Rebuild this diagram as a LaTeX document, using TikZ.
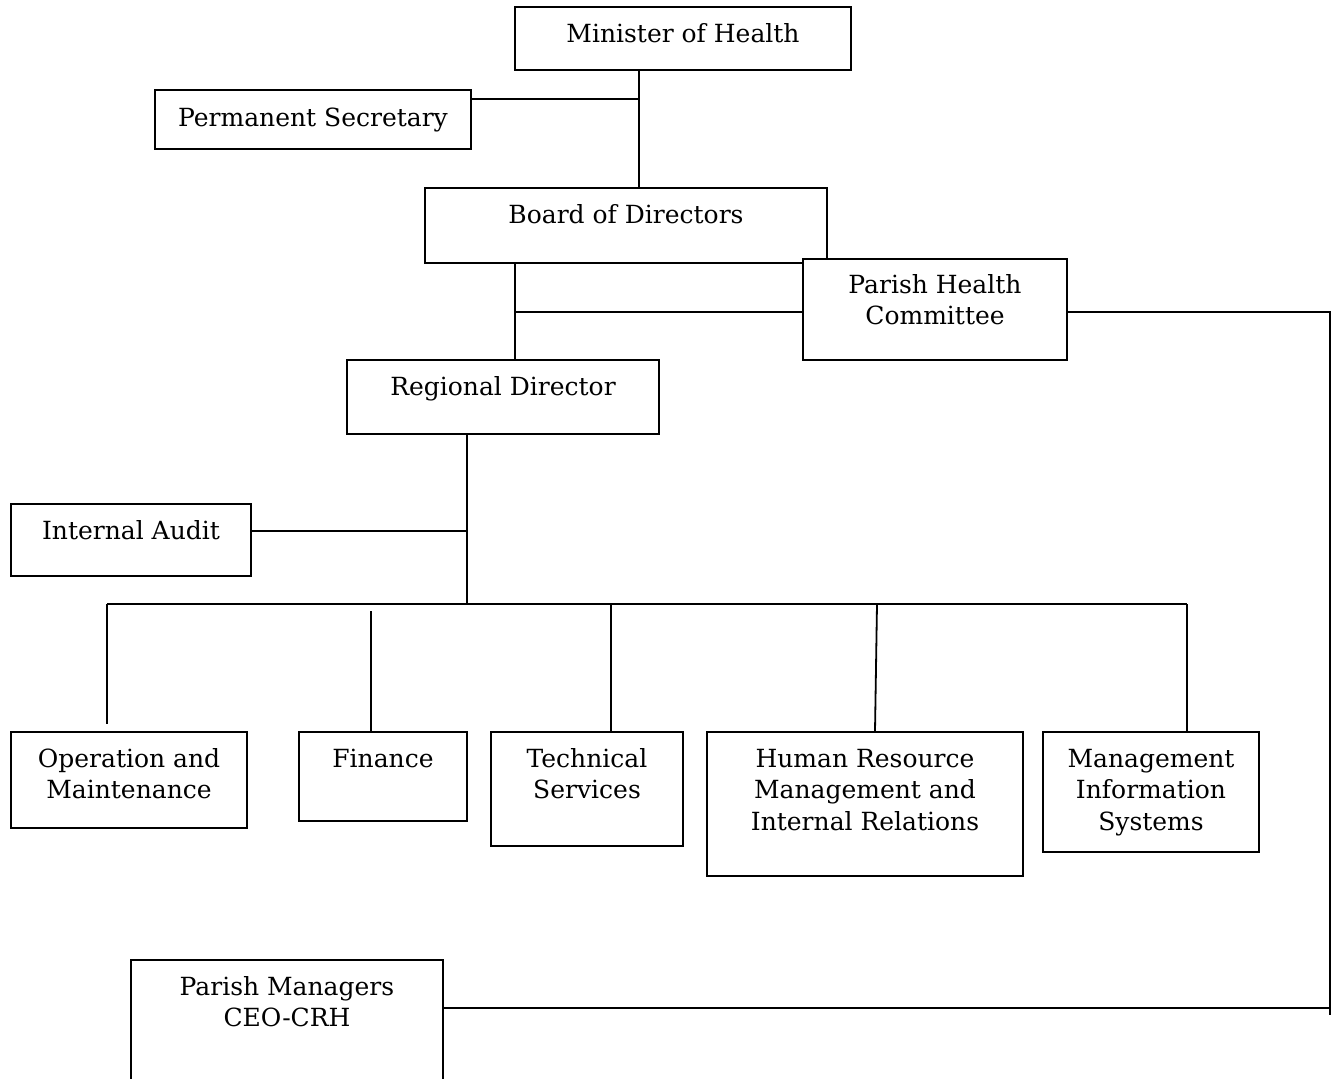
\documentclass[tikz,border=0pt]{standalone}
\usepackage{fontspec}
\setmainfont{DejaVu Serif}
\begin{document}
\begin{tikzpicture}[x=1pt,y=-1pt,
  box/.style={draw,line width=1.8pt,inner sep=0pt,fill=white},
  txt/.style={anchor=base,align=center,inner sep=0pt,font=\fontsize{25}{31.5}\selectfont},
  conn/.style={line width=1.8pt}]
\useasboundingbox (0,0) rectangle (1337,1078);
\clip (0,0) rectangle (1337,1078);
% boxes (multi-line text: base anchor sits on the last line)
\node[box,minimum width=336pt,minimum height=63pt] (min) at (683,38.5) {};
\node[txt] (mint) at (683,43) {Minister of Health};
\node[box,minimum width=316pt,minimum height=59pt] (ps) at (313,119.5) {};
\node[txt] (pst) at (313,127) {Permanent Secretary};
\node[box,minimum width=402pt,minimum height=75pt] (bod) at (626,225.5) {};
\node[txt] (bodt) at (626,223) {Board of Directors};
\node[box,minimum width=264pt,minimum height=101pt] (phc) at (935,309.5) {};
\node[txt] (phct) at (935,324.5) {Parish Health\\Committee};
\node[box,minimum width=312pt,minimum height=74pt] (rd) at (503,397) {};
\node[txt] (rdt) at (503,395) {Regional Director};
\node[box,minimum width=240pt,minimum height=72pt] (ia) at (131,540) {};
\node[txt] (iat) at (131,539) {Internal Audit};
\node[box,minimum width=236pt,minimum height=96pt] (om) at (129,780) {};
\node[txt] (omt) at (129,798.5) {Operation and\\Maintenance};
\node[box,minimum width=168pt,minimum height=89pt] (fin) at (383,776.5) {};
\node[txt] (fint) at (383,767) {Finance};
\node[box,minimum width=192pt,minimum height=114pt] (ts) at (587,789) {};
\node[txt] (tst) at (587,798.5) {Technical\\Services};
\node[box,minimum width=316pt,minimum height=144pt] (hr) at (865,804) {};
\node[txt] (hrt) at (865,830) {Human Resource\\Management and\\Internal Relations};
\node[box,minimum width=216pt,minimum height=120pt] (mis) at (1151,792) {};
\node[txt] (mist) at (1151,830) {Management\\Information\\Systems};
\node[box,minimum width=312pt,minimum height=160pt] (pm) at (287,1040) {};
\node[txt] (pmt) at (287,1026.5) {Parish Managers\\CEO-CRH};
% junctions
\coordinate (a1) at (639,99);
\coordinate (a2) at (515,312);
\coordinate (a3) at (1330,312);
\coordinate (a4) at (1330,1008);
\coordinate (a5) at (1330,1015);
\coordinate (b1) at (467,604);
\coordinate (b2) at (467,531);
\coordinate (bl) at (107,604);
\coordinate (br) at (1187,604);
\coordinate (c1) at (107,724);
\coordinate (c2) at (371,611);
\coordinate (c3) at (611,604);
\coordinate (c4) at (877,604);
% connectors
\draw[conn] (min.south -| a1) -- (bod.north -| a1);
\draw[conn] (ps.east |- a1) -- (a1);
\draw[conn] (bod.south -| a2) -- (rd.north -| a2);
\draw[conn] (a2) -- (phc.west |- a2);
\draw[conn] (phc.east |- a3) -- (a3) -- (a5);
\draw[conn] (pm.east |- a4) -- (a4);
\draw[conn] (rd.south -| b1) -- (b1);
\draw[conn] (ia.east |- b2) -- (b2);
\draw[conn] (bl) -- (br);
\draw[conn] (bl) -- (c1);
\draw[conn] (c2) -- (fin.north -| c2);
\draw[conn] (c3) -- (ts.north -| c3);
\draw[conn] (c4) -- ([xshift=-2pt]hr.north -| c4);
\draw[conn] (br) -- (mis.north -| br);
\end{tikzpicture}
\end{document}
